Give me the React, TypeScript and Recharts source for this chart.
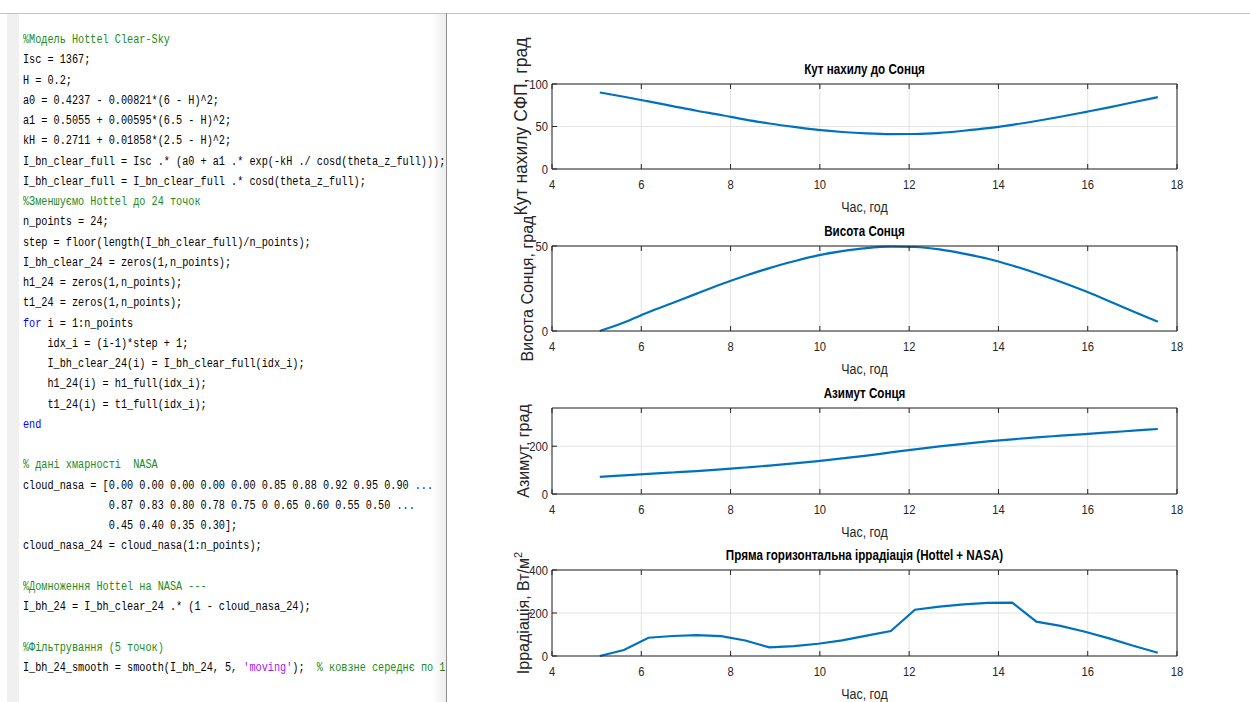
import { LineChart, Line, XAxis, YAxis, CartesianGrid } from 'recharts';

// hours of the 24 samples
const hours = [5.07, 5.61, 6.16, 6.7, 7.24, 7.79, 8.33, 8.87, 9.42, 9.96, 10.5, 11.05,
  11.59, 12.13, 12.68, 13.22, 13.76, 14.31, 14.85, 15.39, 15.94, 16.48, 17.02, 17.57];

const tiltAngle = [90, 85, 79.5, 74, 68.5, 63.5, 58, 53.5, 49.5, 46, 43.5, 41.8,
  41, 41.2, 42.5, 45, 48, 52, 56.5, 61.5, 67, 72.5, 78.5, 84.5];

const sunHeight = [0, 5, 11, 16.5, 22, 27.5, 32.5, 37, 41, 44.5, 47, 48.8,
  49.6, 49.4, 48, 45.5, 42.5, 38.5, 34, 29, 23.5, 17.5, 11.5, 5.5];

const azimuth = [72, 78, 84, 90, 96, 103, 111, 119, 128, 138, 149, 161,
  174, 187, 199, 210, 220, 229, 237, 244, 251, 258, 265, 272];

const irradiance = [0, 28, 85, 93, 97, 92, 72, 40, 46, 57, 73, 95,
  116, 215, 230, 240, 247, 248, 160, 140, 113, 82, 48, 15];

const xTicks = [4, 6, 8, 10, 12, 14, 16, 18];

const AX = '#262626';
const BLUE = '#0072BD';
const SANS = "'Liberation Sans', Arial, sans-serif";
const SQ = 0.83; // matlab text in the screenshot is horizontally squeezed

type Panel = {
  title: string;
  ylabel: React.ReactNode;
  values: number[];
  domain: [number, number];
  ticks: number[];
  top: number;
  plotH: number;
  labelDx: number;
  labelSize: number;
  curve: 'monotone' | 'linear';
};

const panels: Panel[] = [
  { title: 'Кут нахилу до Сонця', ylabel: 'Кут нахилу СФП, град', values: tiltAngle, domain: [0, 100], ticks: [0, 50, 100], top: 84, plotH: 85, labelDx: -31, labelSize: 17.5, curve: 'monotone' },
  { title: 'Висота Сонця', ylabel: 'Висота Сонця, град', values: sunHeight, domain: [0, 50], ticks: [0, 50], top: 246, plotH: 85, labelDx: -25, labelSize: 16, curve: 'monotone' },
  { title: 'Азимут Сонця', ylabel: 'Азимут, град', values: azimuth, domain: [0, 360], ticks: [0, 200], top: 408, plotH: 86, labelDx: -29, labelSize: 16, curve: 'monotone' },
  {
    title: 'Пряма горизонтальна іррадіація (Hottel + NASA)',
    ylabel: (<>Іррадіація, Вт/м<tspan dy={-7} fontSize={11}>2</tspan></>),
    values: irradiance, domain: [0, 400], ticks: [0, 200, 400], top: 570, plotH: 86, labelDx: -29, labelSize: 16, curve: 'linear',
  },
];

function SqText({ x, y, anchor, size, bold, fill, children }: any) {
  return (
    <text
      transform={`translate(${x} ${y}) scale(${SQ} 1)`}
      dy="0.355em" textAnchor={anchor} fill={fill || AX} fontSize={size}
      fontWeight={bold ? 'bold' : 'normal'} fontFamily={SANS}
    >
      {children}
    </text>
  );
}

const XTickB = (p: any) => (
  <g>
    <line x1={p.x} x2={p.x} y1={p.y} y2={p.y - 5} stroke={AX} />
    <SqText x={p.x} y={p.y + 15} anchor="middle" size={13.5}>{p.payload.value}</SqText>
  </g>
);
const XTickT = (p: any) => <line x1={p.x} x2={p.x} y1={p.y} y2={p.y + 5} stroke={AX} />;
const YTickL = (p: any) => (
  <g>
    <line x1={p.x} x2={p.x + 5} y1={p.y} y2={p.y} stroke={AX} />
    <SqText x={p.x - 4} y={p.y} anchor="end" size={13.5}>{p.payload.value}</SqText>
  </g>
);
const YTickR = (p: any) => <line x1={p.x} x2={p.x - 5} y1={p.y} y2={p.y} stroke={AX} />;

const CHART_TOP_PAD = 60;
const CHART_H = 200;

function SubPlot({ panel }: { panel: Panel }) {
  const data = hours.map((h, i) => ({ h, v: panel.values[i] }));
  return (
    <div style={{ position: 'absolute', left: 460, top: panel.top - CHART_TOP_PAD }}>
      <LineChart
        width={737}
        height={CHART_H}
        data={data}
        margin={{ top: CHART_TOP_PAD - 4, right: 19, left: 12, bottom: CHART_H - CHART_TOP_PAD - panel.plotH - 46 }}
        style={{ overflow: 'visible' }}
      >
        <CartesianGrid xAxisId="b" yAxisId="l" stroke="#e3e3e3" />
        <XAxis
          xAxisId="b" dataKey="h" type="number" domain={[4, 18]} ticks={xTicks} interval={0}
          height={46} tickSize={0} tickMargin={0} tickLine={false} axisLine={{ stroke: AX }} tick={XTickB}
          label={{
            value: 'Час, год',
            content: (lp: any) => (
              <SqText x={lp.viewBox.x + lp.viewBox.width / 2} y={lp.viewBox.y + 38} anchor="middle" size={15}>Час, год</SqText>
            ),
          }}
        />
        <XAxis
          xAxisId="t" orientation="top" dataKey="h" type="number" domain={[4, 18]} ticks={xTicks} interval={0}
          height={4} tickSize={0} tickMargin={0} tickLine={false} axisLine={{ stroke: AX }} tick={XTickT}
          label={{
            value: panel.title,
            content: (lp: any) => (
              <SqText x={lp.viewBox.x + lp.viewBox.width / 2} y={lp.viewBox.y + lp.viewBox.height - 15} anchor="middle" size={14} bold fill="#000">{panel.title}</SqText>
            ),
          }}
        />
        <YAxis
          yAxisId="l" type="number" domain={panel.domain} ticks={panel.ticks} interval={0}
          width={80} tickSize={0} tickMargin={0} tickLine={false} axisLine={{ stroke: AX }} tick={YTickL}
          label={{
            value: 'y',
            content: (lp: any) => {
              const cx = lp.viewBox.x + lp.viewBox.width + panel.labelDx;
              const cy = lp.viewBox.y + lp.viewBox.height / 2;
              return (
                <text x={cx} y={cy} dy="0.355em" textAnchor="middle" transform={`rotate(-90 ${cx} ${cy})`} fill={AX} fontSize={panel.labelSize} fontFamily={SANS}>{panel.ylabel}</text>
              );
            },
          }}
        />
        <YAxis
          yAxisId="r" orientation="right" type="number" domain={panel.domain} ticks={panel.ticks} interval={0}
          width={1} tickSize={0} tickMargin={0} tickLine={false} axisLine={{ stroke: AX }} tick={YTickR}
        />
        <Line
          xAxisId="b" yAxisId="l" type={panel.curve} dataKey="v" stroke={BLUE} strokeWidth={2.2}
          dot={false} isAnimationActive={false}
        />
      </LineChart>
    </div>
  );
}

// editor text, split into coloured pieces
const C = '#228B22';
const K = '#0000FF';
const S = '#A020F0';
type Seg = string | [string, string];
const codeLines: Seg[][] = [
  [[C, '%Модель Hottel Clear-Sky']],
  ['Isc = 1367;'],
  ['H = 0.2;'],
  ['a0 = 0.4237 - 0.00821*(6 - H)^2;'],
  ['a1 = 0.5055 + 0.00595*(6.5 - H)^2;'],
  ['kH = 0.2711 + 0.01858*(2.5 - H)^2;'],
  ['I_bn_clear_full = Isc .* (a0 + a1 .* exp(-kH ./ cosd(theta_z_full)));'],
  ['I_bh_clear_full = I_bn_clear_full .* cosd(theta_z_full);'],
  [[C, '%Зменшуємо Hottel до 24 точок']],
  ['n_points = 24;'],
  ['step = floor(length(I_bh_clear_full)/n_points);'],
  ['I_bh_clear_24 = zeros(1,n_points);'],
  ['h1_24 = zeros(1,n_points);'],
  ['t1_24 = zeros(1,n_points);'],
  [[K, 'for'], ' i = 1:n_points'],
  ['    idx_i = (i-1)*step + 1;'],
  ['    I_bh_clear_24(i) = I_bh_clear_full(idx_i);'],
  ['    h1_24(i) = h1_full(idx_i);'],
  ['    t1_24(i) = t1_full(idx_i);'],
  [[K, 'end']],
  [''],
  [[C, '% дані хмарності  NASA']],
  ['cloud_nasa = [0.00 0.00 0.00 0.00 0.00 0.85 0.88 0.92 0.95 0.90 ', [K, '...']],
  ['              0.87 0.83 0.80 0.78 0.75 0 0.65 0.60 0.55 0.50 ', [K, '...']],
  ['              0.45 0.40 0.35 0.30];'],
  ['cloud_nasa_24 = cloud_nasa(1:n_points);'],
  [''],
  [[C, '%Домноження Hottel на NASA ---']],
  ['I_bh_24 = I_bh_clear_24 .* (1 - cloud_nasa_24);'],
  [''],
  [[C, '%Фільтрування (5 точок)']],
  ['I_bh_24_smooth = smooth(I_bh_24, 5, ', [S, "'moving'"], ');  ', [C, '% ковзне середнє по 1']],
];

function Editor() {
  return (
    <div style={{ position: 'absolute', left: 0, top: 14, width: 446, height: 688, overflow: 'hidden', background: '#fff' }}>
      <div style={{ position: 'absolute', left: 7, top: 0, width: 12, height: 688, background: '#f0f0f0' }} />
      <div
        style={{
          position: 'absolute', left: 23, top: 16, whiteSpace: 'pre', fontFamily: "'Liberation Mono', monospace",
          fontSize: 12, lineHeight: '20.25px', color: '#000', transform: 'scaleX(0.85)', transformOrigin: 'left top',
        }}
      >
        {codeLines.map((line, i) => (
          <div key={i} style={{ height: '20.25px' }}>
            {line.map((s, j) =>
              typeof s === 'string' ? <span key={j}>{s}</span> : <span key={j} style={{ color: s[0] }}>{s[1]}</span>
            )}
          </div>
        ))}
      </div>
      <div style={{ position: 'absolute', left: 432, top: 0, width: 14, height: 688, background: 'linear-gradient(to right, rgba(0,0,0,0), rgba(0,0,0,0.07))' }} />
    </div>
  );
}

export default function App() {
  return (
    <div style={{ position: 'absolute', left: 0, top: 0, width: 1250, height: 702, overflow: 'hidden', background: '#fff' }}>
      <Editor />
      <div style={{ position: 'absolute', left: 0, top: 13, width: 1250, height: 1, background: '#c4c4c4' }} />
      <div style={{ position: 'absolute', left: 446, top: 13, width: 1, height: 689, background: '#8f8f8f' }} />
      {panels.map((p, i) => (
        <SubPlot key={i} panel={p} />
      ))}
    </div>
  );
}
